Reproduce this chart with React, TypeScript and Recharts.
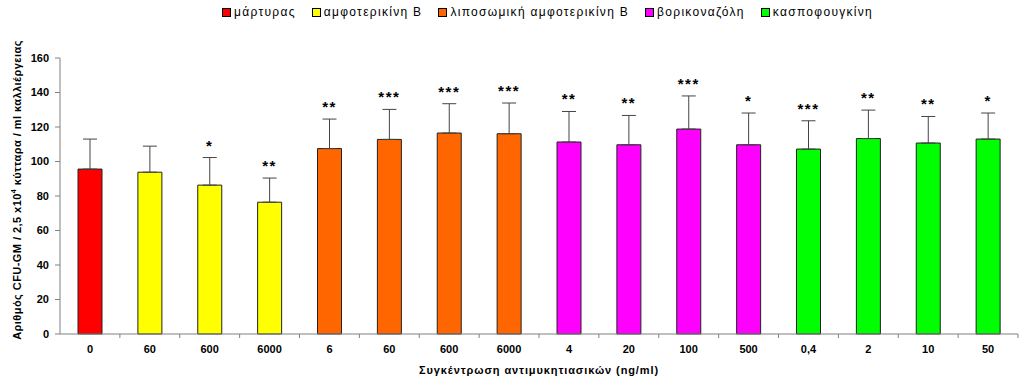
import React from "react";
import { BarChart, Bar, XAxis, YAxis, Cell, ErrorBar, LabelList } from "recharts";

// concentration labels (ng/ml) as printed under each bar
const categories = ["0", "60", "600", "6000", "6", "60", "600", "6000", "4", "20", "100", "500", "0,4", "2", "10", "50"];
// which drug group each bar belongs to (index into seriesNames)
const groupOf = [0, 1, 1, 1, 2, 2, 2, 2, 3, 3, 3, 3, 4, 4, 4, 4];
const means = [95.6, 93.8, 86.3, 76.4, 107.5, 112.8, 116.5, 116.1, 111.3, 109.7, 118.8, 109.7, 107.2, 113.3, 110.7, 113.0];
const sds = [17.4, 15.1, 16.0, 14.0, 17.1, 17.4, 17.0, 17.8, 17.7, 17.0, 19.2, 18.4, 16.4, 16.5, 15.4, 15.1];
const stars = ["", "", "*", "**", "**", "***", "***", "***", "**", "**", "***", "*", "***", "**", "**", "*"];

const seriesNames = ["μάρτυρας", "αμφοτερικίνη Β", "λιποσωμική αμφοτερικίνη Β", "βορικοναζόλη", "κασποφουγκίνη"];
const seriesColors = ["#ff0000", "#ffff00", "#ff6600", "#ff00ff", "#00ff00"];
const yTicks = [0, 20, 40, 60, 80, 100, 120, 140, 160];

const FONT = '"Liberation Sans", Arial, sans-serif';

const data = categories.map((c, i) => ({
  id: i,
  label: c,
  value: means[i],
  err: [0, sds[i]],
  stars: stars[i],
  group: groupOf[i],
}));

function XTick(props: any) {
  const { x, y, payload } = props;
  const half = payload && payload.offset ? payload.offset : 30;
  return (
    <g>
      <line x1={x + half} y1={y} x2={x + half} y2={y + 4} stroke="#808080" />
      <text x={x} y={y + 19} textAnchor="middle" fontSize={11} fontWeight="bold" fill="#000" fontFamily={FONT}>
        {categories[payload.value]}
      </text>
    </g>
  );
}

function StarLabel(props: any) {
  const { x, y, width, height, value, index } = props;
  if (!value) return null;
  const errTop = Number(y) - sds[index] * (Number(height) / means[index]);
  return (
    <text
      x={Number(x) + Number(width) / 2}
      y={errTop - 7}
      textAnchor="middle"
      fontSize={15}
      fontWeight="bold"
      letterSpacing={1.5}
      fill="#000"
      fontFamily={FONT}
    >
      {value}
    </text>
  );
}

function YTitle(props: any) {
  const cx = 17;
  const cy = 190;
  return (
    <text
      x={cx}
      y={cy}
      textAnchor="middle"
      dominantBaseline="central"
      transform={`rotate(-90, ${cx}, ${cy})`}
      fontSize={11}
      fontWeight="bold"
      letterSpacing={0.45}
      fill="#000"
      fontFamily={FONT}
    >
      Αριθμός CFU-GM / 2,5 x10
      <tspan dy={-4} fontSize={7}>4</tspan>
      <tspan dy={4}> κύτταρα / ml καλλιέργειας</tspan>
    </text>
  );
}

function XTitle(props: any) {
  const vb = props.viewBox || {};
  return (
    <text
      x={vb.x + vb.width / 2}
      y={vb.y + 40}
      textAnchor="middle"
      fontSize={11}
      fontWeight="bold"
      letterSpacing={0.9}
      fill="#000"
      fontFamily={FONT}
    >
      Συγκέντρωση αντιμυκητιασικών (ng/ml)
    </text>
  );
}

export default function App() {
  return (
    <div style={{ position: "absolute", left: 0, top: 0, width: 1023, height: 381, background: "#fff", fontFamily: FONT }}>
      {/* Legend */}
      <div style={{ position: "absolute", top: 5, left: 222, display: "flex", gap: 16, fontSize: 12, letterSpacing: 1.3, color: "#000" }}>
        {seriesNames.map((name, i) => (
          <div key={name} style={{ display: "flex", alignItems: "center", gap: 3 }}>
            <div style={{ width: 7, height: 7, background: seriesColors[i], border: "1px solid #000" }} />
            <span>{name}</span>
          </div>
        ))}
      </div>

      <BarChart width={1023} height={381} data={data} margin={{ top: 58, right: 5, bottom: 0, left: 0 }} barSize={24}>
        <XAxis
          dataKey="id"
          height={47}
          interval={0}
          axisLine={{ stroke: "#808080" }}
          tickLine={false}
          tickSize={0}
          tickMargin={0}
          tick={<XTick />}
          label={<XTitle />}
        />
        <YAxis
          width={60}
          domain={[0, 160]}
          ticks={yTicks}
          interval={0}
          axisLine={{ stroke: "#808080" }}
          tickLine={{ stroke: "#808080" }}
          tickSize={5}
          tickMargin={6}
          tick={{ fontSize: 11, fontWeight: "bold", fill: "#000", fontFamily: FONT }}
          label={<YTitle />}
        />
        <Bar dataKey="value" stroke="#222" strokeWidth={1} isAnimationActive={false}>
          {data.map((d) => (
            <Cell key={d.id} fill={seriesColors[d.group]} />
          ))}
          <ErrorBar dataKey="err" width={7} stroke="#444" strokeWidth={1} direction="y" isAnimationActive={false} />
          <LabelList dataKey="stars" content={StarLabel} />
        </Bar>
      </BarChart>
    </div>
  );
}
